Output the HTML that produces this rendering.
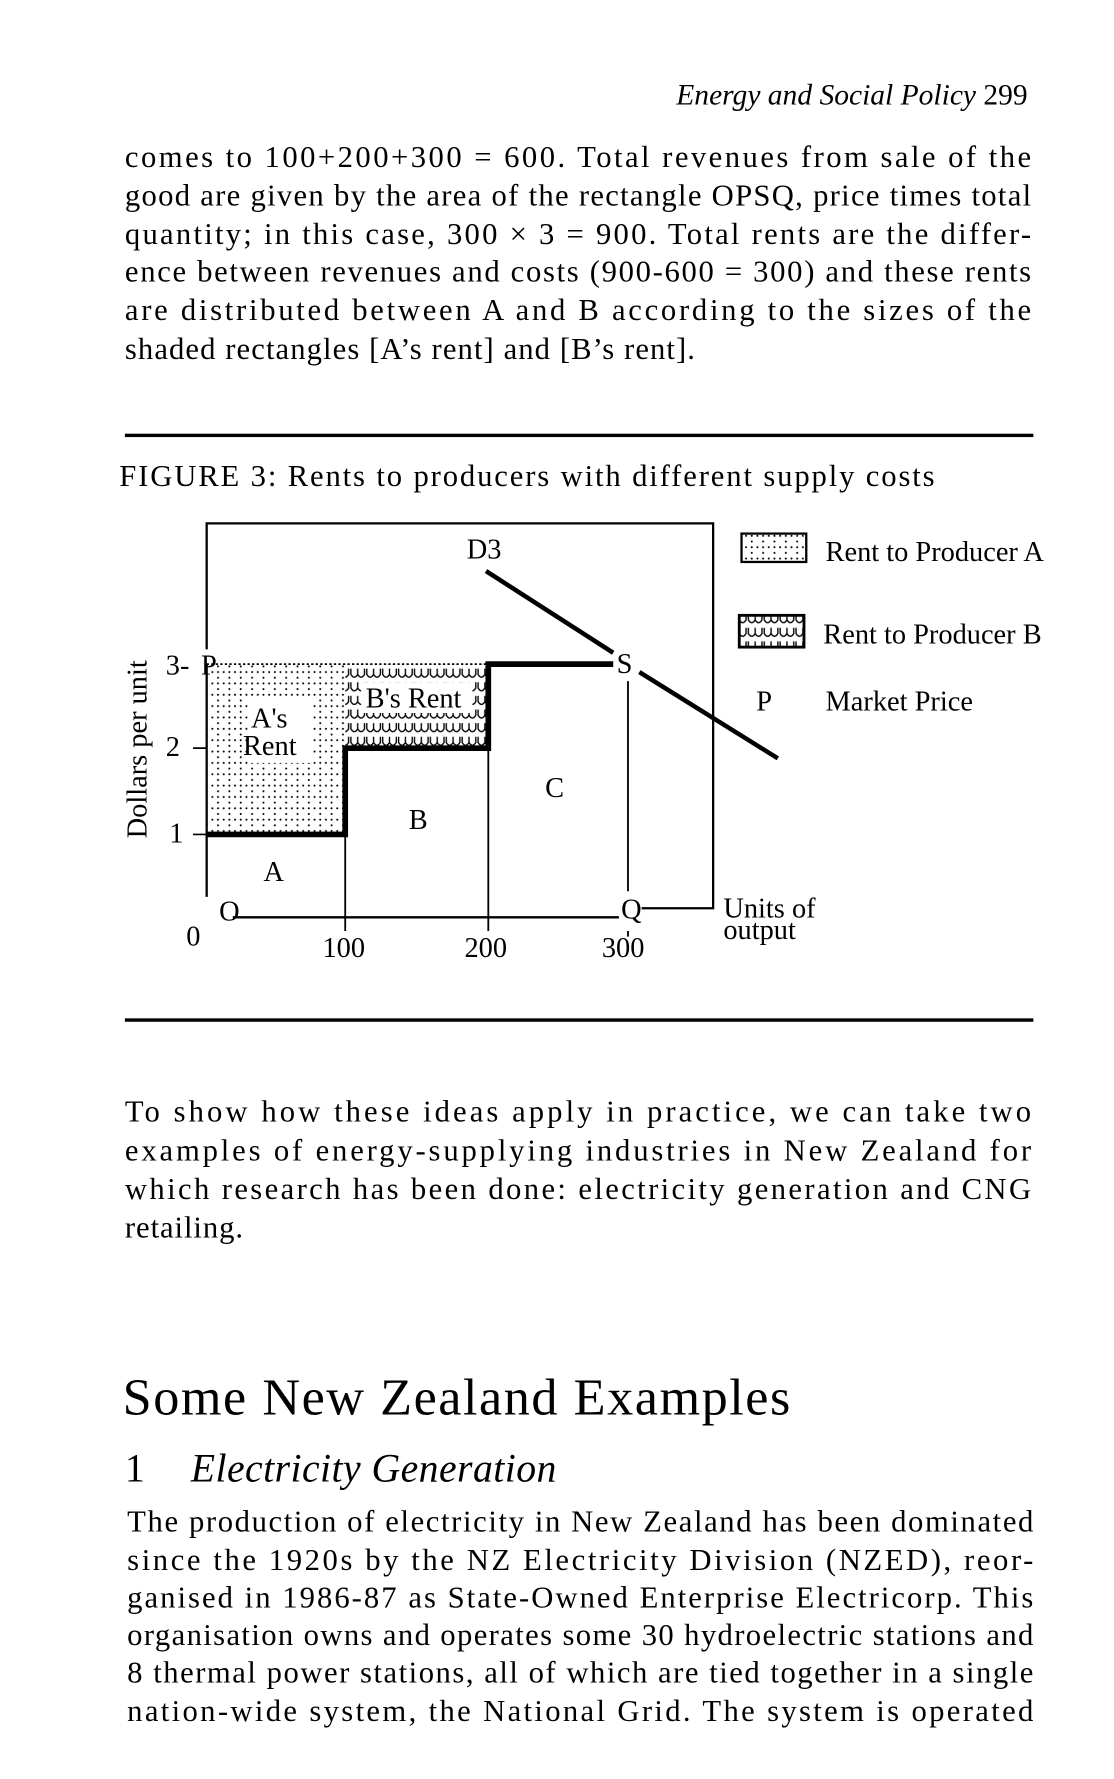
<!DOCTYPE html>
<html><head><meta charset="utf-8"><style>
html,body{margin:0;padding:0;background:#fff}
svg{display:block}
text{font-family:"Liberation Serif",serif;fill:#000}
</style></head><body>
<svg width="1114" height="1779" viewBox="0 0 981 1567" preserveAspectRatio="none" xmlns="http://www.w3.org/2000/svg">
<defs>
<pattern id="dots" width="10" height="10" patternUnits="userSpaceOnUse">
<rect width="10" height="10" fill="#fff"/>
<circle cx="2" cy="2" r="0.9" fill="#000"/><circle cx="7" cy="2" r="0.9" fill="#000"/><circle cx="2" cy="7" r="0.9" fill="#000"/>
</pattern>
<pattern id="wave" width="14" height="12" patternUnits="userSpaceOnUse">
<rect width="14" height="12" fill="#fff"/>
<path d="M1 1 L1 6 Q4 11 7 6 L7 1 M7 6 Q10 11 13 6 L13 1" fill="none" stroke="#000" stroke-width="1.2"/>
</pattern>
</defs>

<text x="905" y="92" font-size="26" text-anchor="end"><tspan font-style="italic">Energy and Social Policy</tspan>   299</text>

<g font-size="27">
<text x="110" y="147" textLength="798" lengthAdjust="spacing">comes to 100+200+300 = 600. Total revenues from sale of the</text>
<text x="110" y="181" textLength="798" lengthAdjust="spacing">good are given by the area of the rectangle OPSQ, price times total</text>
<text x="110" y="215" textLength="798" lengthAdjust="spacing">quantity; in this case, 300 × 3 = 900. Total rents are the differ-</text>
<text x="110" y="248" textLength="798" lengthAdjust="spacing">ence between revenues and costs (900-600 = 300) and these rents</text>
<text x="110" y="282" textLength="798" lengthAdjust="spacing">are distributed between A and B according to the sizes of the</text>
<text x="110" y="316" textLength="502" lengthAdjust="spacing">shaded rectangles [A’s rent] and [B’s rent].</text>
</g>

<rect x="110" y="382" width="800" height="3"/>
<text x="105" y="428" font-size="27" textLength="718" lengthAdjust="spacing">FIGURE 3: Rents to producers with different supply costs</text>

<g stroke="#000" fill="none">
<rect x="182" y="585" width="122" height="150" fill="url(#dots)" stroke="none"/>
<rect x="304" y="585" width="126" height="74" fill="url(#wave)" stroke="none"/>
<rect x="218" y="616" width="56" height="56" fill="#fff" stroke="none"/>
<rect x="318" y="601" width="98" height="27" fill="#fff" stroke="none"/>
<path d="M182 572 L182 461 L628 461 L628 800 L565 800" stroke-width="2"/>
<path d="M182 585 L182 790" stroke-width="2"/>
<path d="M205 808 L545 808" stroke-width="2"/>
<path d="M182 585 L430 585" stroke-width="1.5" stroke-dasharray="2 2"/>
<path d="M182 735 L304 735 L304 659 L430 659 L430 585 L540 585" stroke-width="5"/>
<path d="M304 659 L304 820 M430 585 L430 820 M553 600 L553 785 M553 820 L553 825" stroke-width="1.6"/>
<path d="M170 659 L182 659 M170 735 L182 735" stroke-width="1.5"/>
<path d="M428 503 L540 575 M563 592 L685 668" stroke-width="4"/>
<rect x="653" y="470" width="57" height="25" fill="url(#dots)" stroke-width="2"/>
<rect x="651" y="542" width="57" height="28" fill="url(#wave)" stroke-width="2.5"/>
</g>
<g font-size="25">
<text x="411" y="492">D3</text>
<text x="543" y="593">S</text>
<text x="547" y="809">Q</text>
<text x="193" y="811">O</text>
<text x="164" y="833">0</text>
<text x="284" y="843">100</text>
<text x="409" y="843">200</text>
<text x="530" y="843">300</text>
<text x="146" y="594">3-</text>
<text x="177" y="594">P</text>
<text x="146" y="666">2</text>
<text x="149" y="742">1</text>
<text x="232" y="776">A</text>
<text x="360" y="730">B</text>
<text x="480" y="702">C</text>
<text x="221" y="641">A's</text>
<text x="214" y="665">Rent</text>
<text x="322" y="623">B's Rent</text>
<text x="637" y="808">Units of</text>
<text x="637" y="827">output</text>
<text x="727" y="494">Rent to Producer A</text>
<text x="725" y="567">Rent to Producer B</text>
<text x="666" y="626">P</text>
<text x="727" y="626">Market Price</text>
<text transform="translate(129,660) rotate(-90)" text-anchor="middle">Dollars per unit</text>
</g>

<rect x="110" y="897" width="800" height="3"/>

<g font-size="27">
<text x="110" y="988" textLength="798" lengthAdjust="spacing">To show how these ideas apply in practice, we can take two</text>
<text x="110" y="1022" textLength="798" lengthAdjust="spacing">examples of energy-supplying industries in New Zealand for</text>
<text x="110" y="1056" textLength="798" lengthAdjust="spacing">which research has been done: electricity generation and CNG</text>
<text x="110" y="1090" textLength="104" lengthAdjust="spacing">retailing.</text>
</g>

<text x="108" y="1246" font-size="46" textLength="588" lengthAdjust="spacing">Some New Zealand Examples</text>
<text x="110" y="1305" font-size="35">1</text>
<text x="168" y="1305" font-size="35" font-style="italic" textLength="322" lengthAdjust="spacing">Electricity Generation</text>

<g font-size="27">
<text x="112" y="1349" textLength="798" lengthAdjust="spacing">The production of electricity in New Zealand has been dominated</text>
<text x="112" y="1383" textLength="798" lengthAdjust="spacing">since the 1920s by the NZ Electricity Division (NZED), reor-</text>
<text x="112" y="1416" textLength="798" lengthAdjust="spacing">ganised in 1986-87 as State-Owned Enterprise Electricorp. This</text>
<text x="112" y="1449" textLength="798" lengthAdjust="spacing">organisation owns and operates some 30 hydroelectric stations and</text>
<text x="112" y="1482" textLength="798" lengthAdjust="spacing">8 thermal power stations, all of which are tied together in a single</text>
<text x="112" y="1516" textLength="798" lengthAdjust="spacing">nation-wide system, the National Grid. The system is operated</text>
</g>
</svg>
</body></html>
